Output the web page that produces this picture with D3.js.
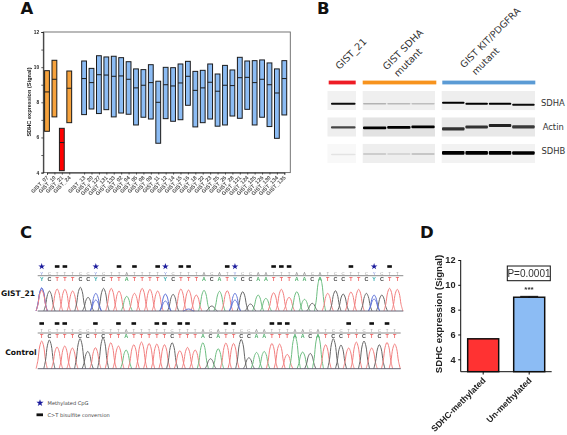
<!DOCTYPE html>
<html><head><meta charset="utf-8">
<script src="https://cdn.jsdelivr.net/npm/d3@7"></script>
<style>html,body{margin:0;padding:0;background:#fff}svg{display:block}text{font-family:"Liberation Sans",sans-serif}</style>
</head><body><svg id="c" width="567" height="435"></svg>
<script>
// ---------- Panel A data
const groupA = ["GIST_07","GIST_10","GIST_21","GIST_24","","GIST_13","GIST_20","GIST_127","GIST_131","GIST_133","GIST_02","GIST_04","GIST_05","GIST_08","GIST_09","GIST_11","GIST_12","GIST_14","GIST_15","GIST_16","GIST_18","GIST_22","GIST_23","GIST_25","GIST_26","GIST_28","GIST_121","GIST_124","GIST_125","GIST_126","GIST_130","GIST_134","GIST_135"];
const hiA  = [9.8,10.39,6.52,9.78,null,10.35,9.93,10.65,10.58,10.62,10.54,10.31,9.9,9.86,10.14,9.2,9.99,9.97,10.18,10.33,9.76,9.82,10.18,9.61,10.1,9.84,10.56,10.35,10.37,10.41,10.24,9.9,10.37];
const loA  = [6.35,7.17,4.11,6.84,null,7.3,7.62,7.36,7.58,7.17,7.39,7.32,6.71,7.15,7.05,5.67,7.07,6.92,7.01,7.83,6.6,6.84,7.05,6.64,6.71,7.22,7.09,7.6,6.71,7.15,6.62,5.95,7.28];
const medA = [8.59,9.31,5.71,8.8,null,9.35,9.12,9.57,9.55,9.48,9.5,9.31,8.82,8.97,9.12,8.0,9.0,8.93,9.1,9.48,8.68,8.82,9.14,8.63,8.97,8.95,9.4,9.42,9.12,9.31,9.0,8.53,9.35];
const ticksA = [4,6,8,10,12];
const colA = d => d==="GIST_21" ? "#ff0000" : ["GIST_07","GIST_10","GIST_24"].includes(d) ? "#f6a23c" : "#8cbcf4";
// ---------- Panel B data
const blotRows = ["SDHA","Actin","SDHB"];
const blotGroups = ["GIST_21","SDHA","KIT"];
const laneCounts = [1,3,4];
const bandDark = [[0.95,0.25,0.22,0.2,1,1,1,0.95],[0.7,1,1,1,0.78,0.78,0.85,0.75],[0.08,0.18,0.13,0.22,1,1,1,1]];
const bandShift = [[0,0,0,0,-1,0,0,1],[0,0.5,0,-0.5,1.5,-0.5,-2,-0.5],[1,0.5,0.5,0.5,-0.5,-0.5,-0.5,-0.5]];
const bandThick = [[2,1.6,1.6,1.6,2.2,2.2,2.2,2.2],[2.4,2.6,2.6,2.6,3.4,3,3,3.2],[1.4,1.4,1.4,1.6,3.8,3.8,3.8,3.4]];
// ---------- Panel C data
const basesTop = ["Y","C","T","T","T","C","C","Y","C","T","T","A","T","T","T","T","Y","C","T","T","T","A","C","A","T","Y","C","C","A","A","T","T","T","A","A","C","A","T","C","C","T","T","C","Y","C","T","T"];
const heightTop = [23,20,22,21.7,20,23.7,13.7,17.7,22.7,22.7,20,14.7,17.7,22.7,21.7,20,17,16.7,22,21,16,20.7,5,19.7,20.3,17.7,19.3,7,16,12.7,18.3,21.7,13.7,19.3,11.7,7.7,33.7,17.7,20.3,17,19,21.7,17.7,16,16,22.7,21.7];
const mixTop = [[0,23,0.9],[7,11,0],[16,10,0],[19,2,0],[25,11,0],[43,12,0]];
const basesBot = ["T","C","T","T","T","C","C","T","C","T","T","A","T","T","T","T","T","C","T","T","T","A","C","A","T","T","C","C","A","A","T","T","T","A","A","C","A","T","C","C","T","T","C","T","C","T","T"];
const heightBot = [27.7,28.7,21.7,22.7,20.7,30,17.3,21,31,26,22.7,18.7,24,26.7,25.3,24.7,24,26,18,21.3,18.7,26,10,20,25.7,25.3,29.3,11,16.3,17.3,25.3,24.7,14.3,33,16.7,15.3,33.7,24,30,23.7,20.7,26.7,27.7,20.7,24,26.3,24.7];
const starsTop = [0,7,16,25,43];
const convTop = [2,3,10,12,15,18,19,24,30,31,32,40,45];
const convBot = [0,2,3,7,10,12,15,16,18,19,24,25,30,31,32,40,43,45];
const baseColor = {T:"#f27f7f",A:"#6dbd80",C:"#666666",Y:"#5f73d8"};
// ---------- Panel D data
const catsD = ["SDHC-methylated","Un-methylated"];
const valsD = [5.65,9.0];
const errD = [0,0.07];
const colsD = ["#ff3333","#8cbcf4"];
const ticksD = [4,6,8,10,12];

const svg = d3.select("#c");
const defs = svg.append("defs");
defs.append("filter").attr("id","b1").attr("x","-20%").attr("y","-150%").attr("width","140%").attr("height","400%")
  .append("feGaussianBlur").attr("stdDeviation",0.75);
defs.append("filter").attr("id","soft").attr("x","-5%").attr("y","-5%").attr("width","110%").attr("height","110%")
  .append("feGaussianBlur").attr("stdDeviation",0.35);
const letter = (t,x,y)=>svg.append("text").attr("x",x).attr("y",y).attr("font-size",16.5).attr("font-weight","bold").attr("fill","#111").style("font-family","'DejaVu Sans',sans-serif").text(t);
letter("A",20.5,14); letter("B",317,14); letter("C",20,238); letter("D",420,238);

// ---------- A
(function(){
  const x = d3.scalePoint().domain(groupA).range([47,284.3]);
  const y = d3.scaleLinear().domain([4,12]).range([172.6,32]);
  const g = svg.append("g").attr("filter","url(#soft)");
  g.append("rect").attr("x",43.3).attr("y",32).attr("width",247).attr("height",140.6).attr("fill","none").attr("stroke","#666").attr("stroke-width",0.9);
  const ax = d3.axisLeft(y).tickValues(d3.range(4,13)).tickSize(2).tickFormat(d=>ticksA.includes(d)?d:"");
  const ay = g.append("g").attr("transform","translate(43.3,0)").call(ax);
  ay.select(".domain").attr("stroke","#222").attr("stroke-width",0.9);
  ay.selectAll("line").attr("stroke","#222").attr("stroke-width",0.7);
  ay.selectAll("text").attr("font-size",4.8).attr("font-weight","bold").attr("fill","#222").attr("dx",0.8);
  const bx = d3.axisBottom(x).tickValues(groupA.filter(d=>d)).tickSize(2).tickFormat("");
  const axg = g.append("g").attr("transform","translate(0,172.6)").call(bx);
  axg.select(".domain").attr("stroke","#333").attr("stroke-width",0.9);
  axg.selectAll("line").attr("stroke","#222").attr("stroke-width",0.7);
  g.selectAll(".xl").data(groupA.filter(d=>d)).join("text")
    .attr("transform",d=>`translate(${x(d)+1.8},178) rotate(-45)`).attr("text-anchor","end")
    .attr("font-size",5.5).attr("fill","#555").attr("font-weight","bold").text(d=>d);
  g.append("text").attr("transform","translate(31,102) rotate(-90)").attr("text-anchor","middle")
    .attr("font-size",5.6).attr("font-weight","bold").attr("fill","#222").text("SDHC expression (Signal)");
  const idx = groupA.map((d,i)=>i).filter(i=>groupA[i]);
  g.selectAll(".bx").data(idx).join("rect")
    .attr("x",i=>x(groupA[i])-2.4).attr("width",4.8)
    .attr("y",i=>y(hiA[i])).attr("height",i=>y(loA[i])-y(hiA[i]))
    .attr("fill",i=>colA(groupA[i])).attr("stroke","#1c1c1c").attr("stroke-width",1);
  g.selectAll(".md").data(idx).join("line")
    .attr("x1",i=>x(groupA[i])-2.4).attr("x2",i=>x(groupA[i])+2.4)
    .attr("y1",i=>y(medA[i])).attr("y2",i=>y(medA[i])).attr("stroke","#1c1c1c").attr("stroke-width",1);
})();

// ---------- B
(function(){
  const groupX = d3.scaleOrdinal().domain(blotGroups).range([[327.5,356],[362.7,435],[441.7,535]]);
  const barX = d3.scaleOrdinal().domain(blotGroups).range([[328.7,355.7],[362.7,436.3],[442.3,535.3]]);
  const barC = d3.scaleOrdinal().domain(blotGroups).range(["#ee1c25","#f7931e","#5b9bd5"]);
  const rowY = d3.scaleBand().domain(blotRows).range([91,163]).paddingInner(0.28);
  const bgs = [["#f1f1f1","#efefef","#eeeeee"],["#eeeeee","#e2e2e2","#e8e8e8"],["#f8f8f8","#eeeeee","#f2f2f2"]];
  blotGroups.forEach(gr=>{
    const [a,b]=barX(gr);
    svg.append("rect").attr("x",a).attr("y",80.6).attr("width",b-a).attr("height",3.8).attr("fill",barC(gr));
  });
  blotRows.forEach((r,ri)=>{
    let offset=0;
    blotGroups.forEach((gr,k)=>{
      const [a,b]=groupX(gr); const n=laneCounts[k];
      svg.append("rect").attr("x",a).attr("y",rowY(r)).attr("width",b-a).attr("height",rowY.bandwidth()).attr("fill",bgs[ri][k]);
      const lx=d3.scaleBand().domain(d3.range(n)).range([a+(k==0?3:0),b]).paddingInner(0.01);
      const cy=rowY(r)+rowY.bandwidth()*[0.67,0.52,0.5][ri];
      d3.range(n).forEach(j=>{
        svg.append("rect").attr("x",lx(j)+0.3).attr("width",lx.bandwidth()-0.6)
          .attr("y",cy+bandShift[ri][offset+j]-bandThick[ri][offset+j]/2).attr("height",bandThick[ri][offset+j])
          .attr("rx",1).attr("fill","#000").attr("opacity",bandDark[ri][offset+j]).attr("filter","url(#b1)");
      });
      offset+=n;
    });
  });
  const rot=(x,y,l1,l2,u,v,fs)=>{
    const t=svg.append("text").attr("transform",`translate(${x},${y}) rotate(-45)`).attr("font-size",fs).attr("fill","#333");
    t.style("font-family","'DejaVu Sans',sans-serif");
    t.append("tspan").attr("x",0).attr("y",0).text(l1);
    if(l2) t.append("tspan").attr("x",u).attr("y",v).text(l2);
  };
  rot(339.5,70,"GIST_21",null,0,0,9.6);
  rot(386.7,70.5,"GIST SDHA","mutant",3.3,12.7,9.6);
  rot(464,68.5,"GIST KIT/PDGFRA","mutant",3.3,13.2,9.4);
  [["SDHA",541,105.7],["Actin",542.7,129.7],["SDHB",541.5,154]].forEach(d=>
    svg.append("text").attr("x",d[1]).attr("y",d[2]).attr("font-size",8.4).attr("fill","#333").style("font-family","'DejaVu Sans',sans-serif").text(d[0]));
})();

// ---------- C
(function(){
  function trace(bases,heights,mix,x0,x1,base,lineY){
    const x=d3.scaleLinear().domain([0,46]).range([x0,x1]);
    const y=d3.scaleLinear().domain([0,40]).range([base,base-40]);
    const g=svg.append("g").attr("filter","url(#soft)");
    const line=d3.line().x(d=>d[0]).y(d=>d[1]).curve(d3.curveCatmullRom.alpha(0.5));
    const draw=(i,h,c)=>{
      const cx=x(i);
      const pts=[[cx-5.6,y(0)],[cx-3.8,y(h*0.3)],[cx-1.9,y(h*0.82)],[cx,y(h)],[cx+1.9,y(h*0.82)],[cx+3.8,y(h*0.3)],[cx+5.6,y(0)]];
      g.append("path").attr("d",line(pts)).attr("fill","none").attr("stroke",c).attr("stroke-width",1);
    };
    bases.forEach((b,i)=>draw(i,heights[i],baseColor[b]));
    mix.forEach(m=>{ draw(m[0],m[1],baseColor.Y); if(m[2]) draw(m[0],m[1]*m[2],baseColor.T); });
    g.append("line").attr("x1",x0-4).attr("x2",x1+6).attr("y1",base).attr("y2",base).attr("stroke","#556").attr("stroke-width",0.9);
    g.append("line").attr("x1",x0-4).attr("x2",x1+6).attr("y1",lineY).attr("y2",lineY).attr("stroke","#8a8a8a").attr("stroke-width",1);
    g.selectAll(".u").data(bases).join("text").attr("x",(d,i)=>x(i)).attr("y",lineY-1).attr("text-anchor","middle")
      .attr("font-size",4.4).attr("fill",d=>d=="Y"?"#7a8ae0":"#999").text(d=>d);
    g.selectAll(".l").data(bases).join("text").attr("x",(d,i)=>x(i)).attr("y",lineY+5).attr("text-anchor","middle")
      .attr("font-size",5.4).attr("font-weight","bold").attr("fill",d=>d=="Y"?"#3aa":(d=="C"?"#444":d=="T"?"#f06060":"#4cae68")).text(d=>d);
    return x;
  }
  const xT=trace(basesTop,heightTop,mixTop,41.7,397.3,311,275.7);
  const xB=trace(basesBot,heightBot,[],41.7,394.7,368.7,333);
  const star=d3.symbol().type(d3.symbolStar);
  svg.selectAll(".st").data(starsTop).join("path").attr("d",star.size(14)).attr("fill","#1a1a9c")
    .attr("transform",d=>`translate(${xT(d)},266.5)`);
  svg.selectAll(".ct").data(convTop).join("rect").attr("x",d=>xT(d)-2.3).attr("y",265.2).attr("width",4.6).attr("height",2.6).attr("fill","#111");
  svg.selectAll(".cb").data(convBot).join("rect").attr("x",d=>xB(d)-2.3).attr("y",322.2).attr("width",4.6).attr("height",2.6).attr("fill","#111");
  const lab=(t,x,y)=>svg.append("text").attr("x",x).attr("y",y).attr("font-size",7.6).attr("font-weight","bold").attr("fill","#111").style("font-family","'DejaVu Sans',sans-serif").text(t);
  lab("GIST_21",1,296); lab("Control",5.3,355);
  svg.append("path").attr("d",star.size(16)).attr("fill","#1a1a9c").attr("transform","translate(40,403)");
  svg.append("rect").attr("x",36.5).attr("y",413.4).attr("width",6.5).attr("height",2.8).attr("fill","#111");
  const leg=(t,y)=>svg.append("text").attr("x",47.5).attr("y",y).attr("font-size",5.1).attr("fill","#444").style("font-family","'DejaVu Sans',sans-serif").text(t);
  leg("Methylated CpG",405); leg("C>T bisulfite conversion",416.7);
})();

// ---------- D
(function(){
  const x=d3.scaleBand().domain(catsD).range([460.7,551.7]).paddingInner(0.326).paddingOuter(0.152);
  const y=d3.scaleLinear().domain([3,12]).range([371.7,260]);
  const g=svg.append("g").attr("filter","url(#soft)");
  g.selectAll(".b").data(catsD).join("rect").attr("x",d=>x(d)).attr("width",x.bandwidth())
    .attr("y",(d,i)=>y(valsD[i])).attr("height",(d,i)=>y(3)-y(valsD[i])).attr("fill",(d,i)=>colsD[i]).attr("stroke","#111").attr("stroke-width",1.5);
  const cx=x(catsD[1])+x.bandwidth()/2;
  g.append("line").attr("x1",cx).attr("x2",cx).attr("y1",y(valsD[1])).attr("y2",y(valsD[1]+errD[1])).attr("stroke","#111");
  g.append("line").attr("x1",cx-9).attr("x2",cx+9).attr("y1",y(valsD[1]+errD[1])).attr("y2",y(valsD[1]+errD[1])).attr("stroke","#111");
  const ay=g.append("g").attr("transform","translate(460.7,0)").call(d3.axisLeft(y).tickValues(ticksD).tickSize(2.5));
  ay.select(".domain").attr("stroke","#111").attr("stroke-width",1).attr("d","M0,260V371.7");
  ay.selectAll("line").attr("stroke","#111");
  ay.selectAll("text").attr("font-size",9.2).attr("font-weight","bold").attr("fill","#222").attr("dx",0.3);
  g.append("line").attr("x1",460.7).attr("x2",551.7).attr("y1",371.7).attr("y2",371.7).attr("stroke","#111").attr("stroke-width",1);
  g.selectAll(".xt").data(catsD).join("line").attr("x1",d=>x(d)+x.bandwidth()/2).attr("x2",d=>x(d)+x.bandwidth()/2).attr("y1",371.7).attr("y2",374.5).attr("stroke","#111");
  g.selectAll(".xl").data(catsD).join("text")
    .attr("transform",d=>`translate(${x(d)+x.bandwidth()/2+3},381) rotate(-45)`).attr("text-anchor","end")
    .attr("font-size",8.6).attr("font-weight","bold").attr("fill","#222").text(d=>d);
  g.append("text").attr("transform","translate(442,314) rotate(-90)").attr("text-anchor","middle")
    .attr("font-size",9.6).attr("font-weight","bold").attr("fill","#222").text("SDHC expression (Signal)");
  g.append("rect").attr("x",507.3).attr("y",266).attr("width",43).attr("height",14.7).attr("fill","#fff").attr("stroke","#111").attr("stroke-width",1);
  g.append("text").attr("x",529).attr("y",276.9).attr("text-anchor","middle").attr("font-size",10).attr("fill","#333").text("P=0.0001");
  g.append("text").attr("x",529).attr("y",291.5).attr("text-anchor","middle").attr("font-size",8).attr("font-weight","bold").attr("fill","#333").text("***");
})();
</script></body></html>
